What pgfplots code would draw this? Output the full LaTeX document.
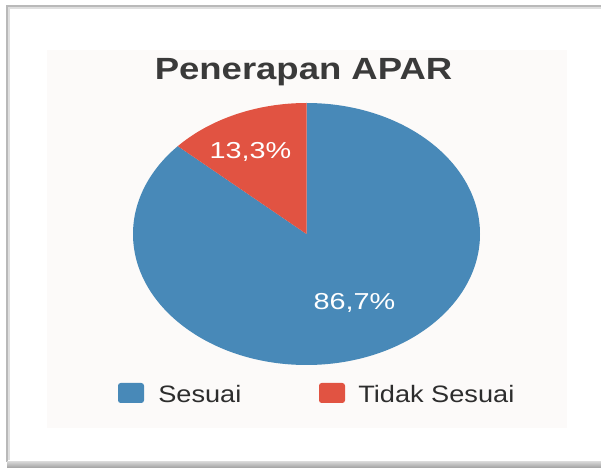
\documentclass[border=0pt]{standalone}
\usepackage{pgfplots}
\pgfplotsset{compat=1.18}
\usepackage{pgfplotstable}
\usepackage{graphicx}
\usepackage{fontspec}
\setmainfont{Liberation Sans}

\definecolor{pieblue}{RGB}{72,137,184}
\definecolor{piered}{RGB}{225,83,66}
\definecolor{titlegray}{RGB}{58,58,58}
\definecolor{legendgray}{RGB}{45,45,45}
\definecolor{panel}{RGB}{252,250,249}

\pgfplotstableread{
label value
Sesuai 86.7
TidakSesuai 13.3
}\piedata

\begin{document}
\begin{tikzpicture}[x=0.75pt,y=0.75pt]
\useasboundingbox (0,0) rectangle (601,468);
\fill[white] (0,0) rectangle (601,468);
% inner panel
\fill[panel] (47,40) rectangle (567,418);
% frame (left, top, bottom)
\draw[gray!25, line width=2.2pt] (9,8) -- (9,460) -- (601,460);
\draw[gray!55, line width=1.1pt] (7,6) -- (7,462) -- (601,462);
\shade[top color=gray!35, bottom color=gray!75] (7,0) rectangle (601,6);
% title
\node[anchor=base, inner sep=0, text=titlegray] at (303.5,388)
  {\scalebox{1.19}[1]{\fontsize{23}{27}\selectfont\bfseries Penerapan APAR}};

\coordinate (pc) at (306.5,234);

\pgfplotstablegetelem{0}{value}\of\piedata \let\valA\pgfplotsretval
\pgfplotstablegetelem{1}{value}\of\piedata \let\valB\pgfplotsretval
\pgfmathsetmacro{\angA}{3.6*\valA}
\pgfmathsetmacro{\angB}{3.6*\valB}

\begin{axis}[
  at={(pc)}, anchor=center,
  x=130.125pt, y=98.25pt,
  xmin=-1, xmax=1, ymin=-1, ymax=1,
  hide axis, clip=false]
  \fill[pieblue] (axis cs:0,0) -- (axis cs:0,1)
     arc[start angle=90, delta angle=-\angA, x radius=130.125pt, y radius=98.25pt] -- cycle;
  \fill[piered] (axis cs:0,0) -- (axis cs:0,1)
     arc[start angle=90, delta angle=\angB, x radius=130.125pt, y radius=98.25pt] -- cycle;
\end{axis}

% slice labels
\node[anchor=base, inner sep=0, text=white] at (250.5,309)
  {\scalebox{1.25}[1]{\fontsize{17.3}{20}\selectfont 13,3\%}};
\node[anchor=base, inner sep=0, text=white] at (354.5,158)
  {\scalebox{1.25}[1]{\fontsize{17.3}{20}\selectfont 86,7\%}};

% legend
\fill[pieblue, rounded corners=2] (118,65) rectangle (144,85);
\fill[piered, rounded corners=2] (319,65) rectangle (345,85);
\node[anchor=base west, inner sep=0, text=legendgray] at (158,65)
  {\scalebox{1.145}[1]{\fontsize{17.8}{21}\selectfont Sesuai}};
\node[anchor=base west, inner sep=0, text=legendgray] at (358,65)
  {\scalebox{1.145}[1]{\fontsize{17.8}{21}\selectfont Tidak Sesuai}};
\end{tikzpicture}
\end{document}
